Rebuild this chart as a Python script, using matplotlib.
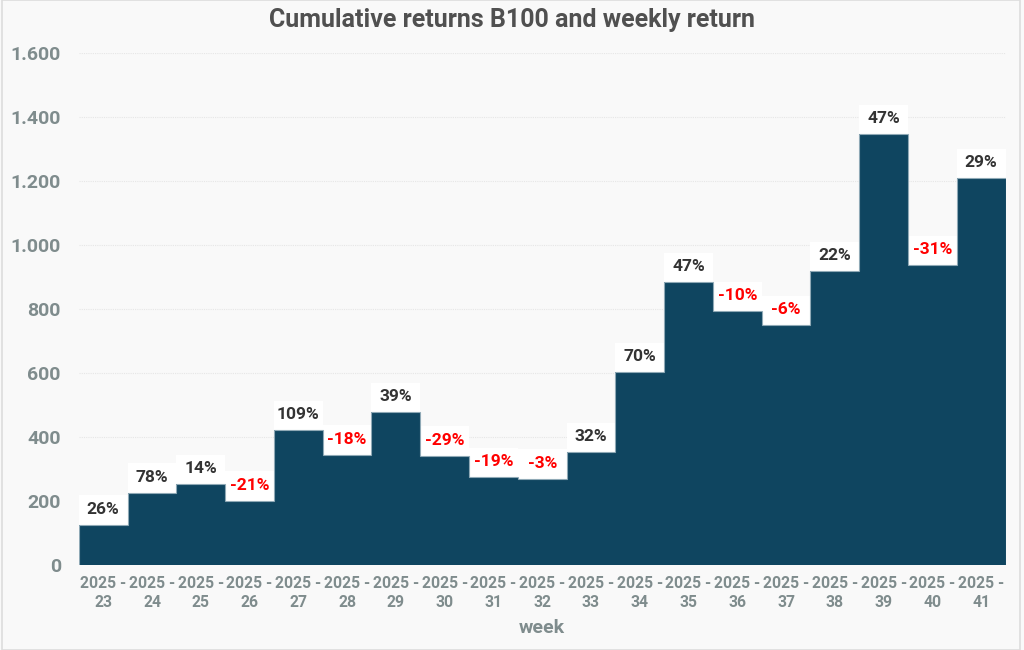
import matplotlib
matplotlib.use("Agg")
import matplotlib.pyplot as plt
from matplotlib.ticker import FuncFormatter, MultipleLocator
from matplotlib.patches import Rectangle

weeks = ["23", "24", "25", "26", "27", "28", "29", "30", "31", "32",
         "33", "34", "35", "36", "37", "38", "39", "40", "41"]
cumulative = [125, 225, 253, 200, 422, 344, 478, 341, 275, 269,
              353, 603, 884, 794, 750, 919, 1347, 938, 1209]
weekly_pct = [26, 78, 14, -21, 109, -18, 39, -29, -19, -3,
              32, 70, 47, -10, -6, 22, 47, -31, 29]
tick_labels = [f"2025 -\n{w}" for w in weeks]

plt.rcParams['font.family'] = ['Roboto', 'DejaVu Sans']

bg = "#f9f9f9"
bar_color = "#0f4560"
gray = "#7f8c8d"

fig = plt.figure(figsize=(10.24, 6.5), dpi=100, facecolor=bg)
ax = fig.add_axes([0.077, 0.131, 0.905, 0.787], facecolor=bg)
fig.patches.append(Rectangle((0.002, 0.0), 0.994, 1.0, transform=fig.transFigure,
                             fill=False, edgecolor="#dddddd", linewidth=1.2))

x = list(range(len(weeks)))
ax.bar(x, cumulative, width=1.0, color=bar_color, linewidth=0, zorder=3)
edges = [i - 0.5 for i in range(len(weeks) + 1)]
ax.stairs(cumulative, edges, color="#8fa9b6", linewidth=0.8, zorder=3.5)

# label background boxes (white, full bar width)
box_h = 92
ax.bar(x, [box_h] * len(x), bottom=cumulative, width=1.0, color="white",
       linewidth=0, zorder=2)

for xi, v, p in zip(x, cumulative, weekly_pct):
    col = "#333333" if p >= 0 else "#ff0000"
    ax.text(xi, v + 48, f"{p}%", ha="center", va="center", fontsize=12.5,
            fontweight="bold", color=col, zorder=4)

ax.set_xlim(-0.5, len(x) - 0.5)
ax.set_ylim(0, 1600)
ax.yaxis.set_major_locator(MultipleLocator(200))
ax.yaxis.set_major_formatter(FuncFormatter(lambda v, _: f"{int(v):,}".replace(",", ".")))
ax.grid(axis="y", color="#e6e6e6", linestyle=(0, (1, 1)), linewidth=0.8, zorder=1)
ax.set_axisbelow(True)

ax.set_xticks(x)
ax.set_xticklabels(tick_labels, fontsize=11.3, fontweight="bold", color=gray,
                   linespacing=1.3)
for lab in ax.get_yticklabels():
    lab.set_fontsize(14)
    lab.set_fontweight("bold")
    lab.set_color(gray)
ax.tick_params(axis="both", length=0)
ax.tick_params(axis="x", pad=8)
ax.tick_params(axis="y", pad=13)

for s in ax.spines.values():
    s.set_visible(False)

ax.set_xlabel("week", fontsize=14, fontweight="bold", color=gray, labelpad=7)
fig.suptitle("Cumulative returns B100 and weekly return", fontsize=18,
             fontweight="bold", color="#505050", y=0.987)

fig.savefig("out.png", dpi=100, facecolor=bg)
